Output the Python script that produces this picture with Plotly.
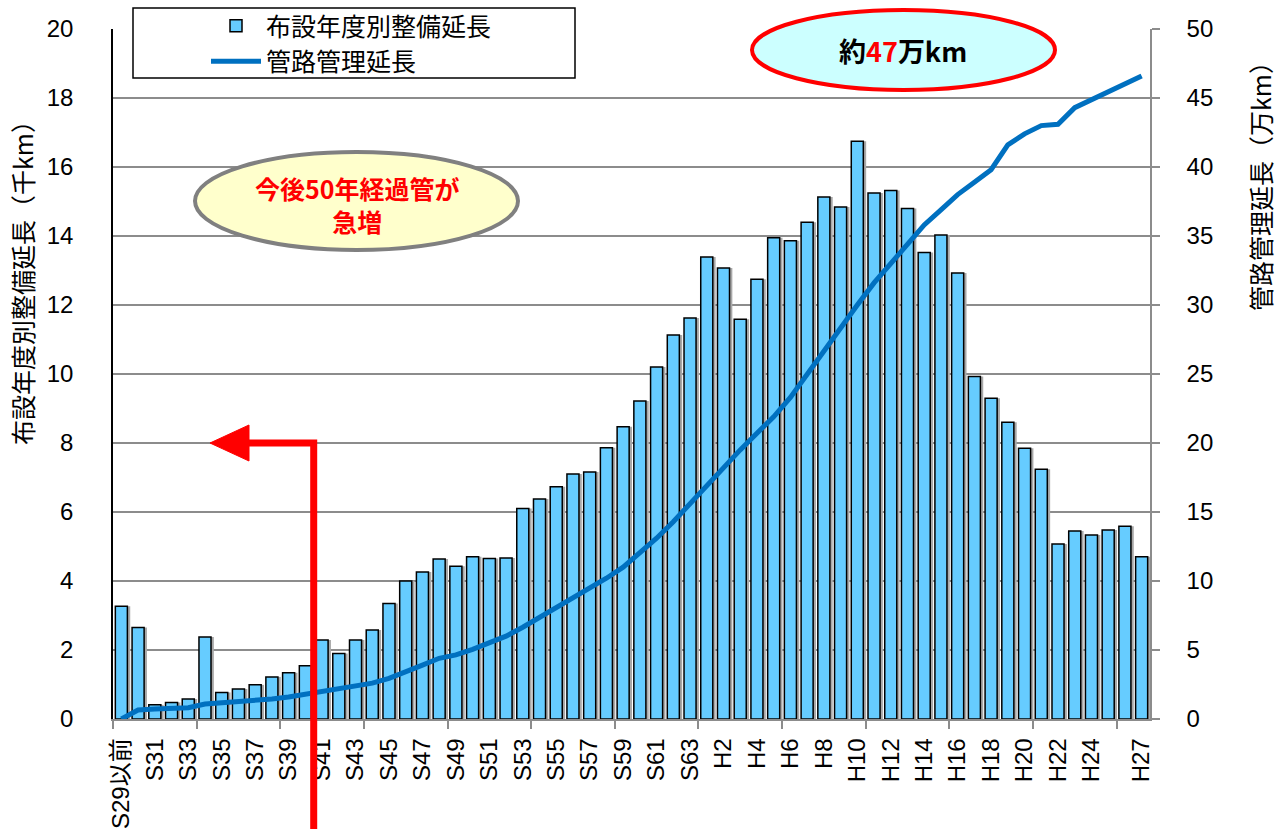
import plotly.graph_objects as go

# categories (fiscal year of installation)
years = ["S29以前"] + ["S%d" % n for n in range(30, 64)] + ["H%d" % n for n in range(1, 28)]

# 布設年度別整備延長 (千km)
built_len = [3.27, 2.65, 0.41, 0.48, 0.58, 2.38, 0.77, 0.87, 0.99, 1.22,
             1.34, 1.54, 2.29, 1.90, 2.29, 2.58, 3.35, 4.00, 4.26, 4.64,
             4.43, 4.70, 4.65, 4.67, 6.10, 6.38, 6.73, 7.10, 7.16, 7.86,
             8.47, 9.22, 10.20, 11.13, 11.62, 13.39, 13.07, 11.59, 12.75, 13.95,
             13.86, 14.40, 15.13, 14.84, 16.75, 15.25, 15.32, 14.80, 13.52, 14.03,
             12.93, 9.93, 9.30, 8.60, 7.85, 7.24, 5.07, 5.45, 5.33, 5.48,
             5.59, 4.70]

# 管路管理延長 (万km)
total_len = [0.0, 0.65, 0.72, 0.76, 0.82, 1.08, 1.15, 1.22, 1.32, 1.45,
             1.60, 1.80, 1.98, 2.15, 2.35, 2.60, 2.95, 3.40, 3.90, 4.40,
             4.65, 5.05, 5.50, 6.00, 6.65, 7.35, 8.00, 8.75, 9.50, 10.20,
             11.00, 12.00, 13.10, 14.30, 15.60, 17.00, 18.30, 19.50, 20.70, 21.90,
             23.30, 25.00, 26.70, 28.30, 30.00, 31.60, 33.00, 34.50, 35.80, 36.90,
             38.00, 38.90, 39.80, 41.60, 42.40, 43.00, 43.10, 44.30, 44.90, 45.50,
             46.10, 46.60]

# labelled categories: every other year plus the last one
label_years = years[0:59:2] + [years[-1]]

idx = list(range(len(years)))
tickvals = [years.index(y) for y in label_years]

W, H = 1278, 829
PL, PT, PR, PB = 113, 29, 1150, 719  # plot area in pixels
PW, PH = PR - PL, PB - PT


def px(x):
    return (x - PL) / PW


def py(y):
    return (PB - y) / PH


LAT = "Liberation Sans, Arial, Noto Sans CJK JP"
CJK = "Noto Sans CJK JP, Noto Sans"
GRID = "#8C8C8C"

fig = go.Figure()

# drop shadow of the bars
fig.add_trace(go.Bar(x=idx, y=built_len, width=0.72, offset=-0.36 + 0.17,
                     marker=dict(color="#A8A8A8", line=dict(width=0)),
                     showlegend=False, hoverinfo="skip"))

fig.add_trace(go.Bar(x=idx, y=built_len, width=0.72, offset=-0.36,
                     marker=dict(color="#66CCFF", line=dict(color="black", width=1.5)),
                     name="布設年度別整備延長"))

fig.add_trace(go.Scatter(x=idx, y=total_len, yaxis="y2", mode="lines",
                         line=dict(color="#0070C0", width=5),
                         name="管路管理延長"))

fig.update_layout(
    width=W, height=H,
    margin=dict(l=PL, r=W - PR, t=PT, b=H - PB, autoexpand=False),
    paper_bgcolor="white", plot_bgcolor="white",
    barmode="overlay",
    font=dict(family=LAT, size=24, color="black"),
    xaxis=dict(range=[-0.5, len(years) - 0.5], tickmode="array",
               tickvals=tickvals, ticktext=label_years, tickangle=-90,
               ticks="", ticklabelstandoff=8, showgrid=False, zeroline=False,
               showline=True, linecolor=GRID, linewidth=1.5, automargin=False,
               minor=dict(ticks="outside", tick0=-0.5, dtick=5, ticklen=8,
                          tickcolor=GRID, tickwidth=1.5, showgrid=False),
               tickfont=dict(family=LAT, size=24)),
    yaxis=dict(range=[0, 20], dtick=2, showgrid=True, gridcolor=GRID, gridwidth=1.5,
               zeroline=False, showline=True, linecolor="black", linewidth=1.5,
               automargin=False, ticks="", ticklabelstandoff=33,
               tickfont=dict(family=LAT, size=24)),
    yaxis2=dict(range=[0, 50], dtick=5, overlaying="y", side="right", showgrid=False,
                zeroline=False, showline=True, linecolor=GRID, linewidth=1.5,
                automargin=False, ticks="outside", ticklen=8, tickcolor=GRID, tickwidth=1.5,
                ticklabelstandoff=22, tickfont=dict(family=LAT, size=24)),
    legend=dict(x=px(206), y=py(3), xanchor="left", yanchor="top",
                bgcolor="rgba(0,0,0,0)", borderwidth=0,
                font=dict(family=CJK, size=25), tracegroupgap=0,
                itemwidth=50),
)

# legend frame, wider than plotly's own box
fig.add_shape(type="rect", xref="paper", yref="paper",
              x0=px(133), x1=px(575), y0=py(78), y1=py(8),
              fillcolor="white", line=dict(color="black", width=1.5))

# axis titles placed like the original (not centred on the axes)
fig.add_annotation(x=px(22), y=py(277), xref="paper", yref="paper", showarrow=False,
                   xanchor="center", yanchor="middle",
                   text="布設年度別整備延長（千km）", textangle=-90,
                   font=dict(family=CJK, size=25))
fig.add_annotation(x=px(1260), y=py(180), xref="paper", yref="paper", showarrow=False,
                   xanchor="center", yanchor="middle",
                   text="管路管理延長（万km）", textangle=-90,
                   font=dict(family=CJK, size=25))

# callout ellipses
fig.add_shape(type="circle", xref="paper", yref="paper",
              x0=px(752), x1=px(1055), y0=py(90), y1=py(10),
              fillcolor="#CCFFFF", line=dict(color="#FF0000", width=4))
fig.add_annotation(x=px(903), y=py(51), xref="paper", yref="paper", showarrow=False,
                   xanchor="center", yanchor="middle",
                   text="<b>約<span style='color:#FF0000'>47</span>万km</b>",
                   font=dict(family=CJK, size=27, color="black"))

fig.add_shape(type="circle", xref="paper", yref="paper",
              x0=px(195), x1=px(518), y0=py(250), y1=py(152),
              fillcolor="#FFFFCC", line=dict(color="#808080", width=4))
fig.add_annotation(x=px(357), y=py(204), xref="paper", yref="paper", showarrow=False,
                   xanchor="center", yanchor="middle",
                   text="<b>今後50年経過管が<br>急増</b>",
                   font=dict(family=CJK, size=25, color="#FF0000"))

# 50-year arrow
ax = (11.5 + 0.5) / len(years)
ay = 8 / 20
fig.add_shape(type="path", xref="paper", yref="paper",
              path="M %f,%f L %f,%f L %f,%f" % (ax, py(840), ax, ay, px(246), ay),
              line=dict(color="#FF0000", width=7))
fig.add_shape(type="path", xref="paper", yref="paper",
              path="M %f,%f L %f,%f L %f,%f Z" % (px(210), ay, px(249), ay + 18 / PH,
                                                  px(249), ay - 18 / PH),
              fillcolor="#FF0000", line=dict(color="#FF0000", width=1))

# drop the default 8px body margin so the figure fills the window exactly
fig.write_html("out.html", config={"displayModeBar": False},
               post_script="document.body.style.margin='0';")
